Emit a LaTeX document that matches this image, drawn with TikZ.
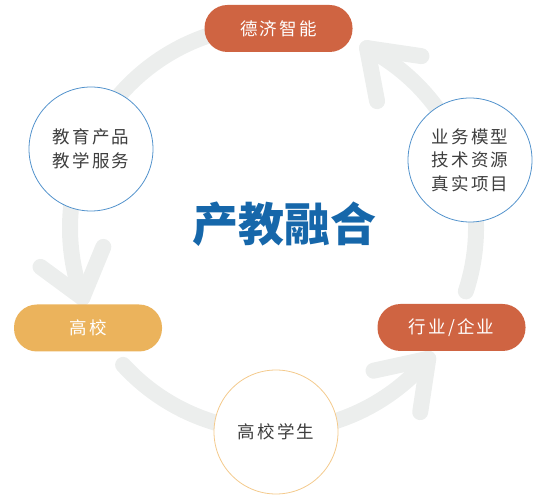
\documentclass[tikz,border=0pt]{standalone}
\usepackage{fontspec}
\usepackage{tikz}
\newfontfamily\cjk[LetterSpace=12]{Noto Sans CJK SC}
\newfontfamily\cjktitle{Noto Sans CJK SC}
\definecolor{rust}{RGB}{207,100,66}
\definecolor{sand}{RGB}{235,179,92}
\definecolor{ringgrey}{RGB}{236,238,237}
\definecolor{ringblue}{RGB}{82,146,204}
\definecolor{ringpeach}{RGB}{244,202,140}
\definecolor{titleblue}{RGB}{22,103,170}
\definecolor{textgrey}{RGB}{62,62,62}
\tikzstyle{pill}=[rounded corners=23pt,minimum width=148pt,minimum height=47pt,inner sep=0pt,text=white,font=\cjk\fontsize{17.5}{21}\selectfont]

\begin{document}
\begin{tikzpicture}[x=1pt,y=1pt]

\tikzstyle{disc}=[circle,draw=ringblue,line width=0.8pt,fill=white,minimum size=124pt,inner sep=0pt,align=center,text=textgrey,font=\cjk\fontsize{17.5}{23.5}\selectfont]
\tikzstyle{ring}=[line width=16pt,draw=ringgrey,line cap=round,line join=round]

\useasboundingbox (0,0) rectangle (545,500);
\coordinate (O) at (273,272);

\draw [ring] ([shift={(100:203)}]O) arc (100:200.1:203pt) coordinate (T1);
\draw [ring] ([shift={(222.4:203)}]O) arc (222.4:319.9:203pt) coordinate (T2);
\draw [ring] ([shift={(341.8:203)}]O) arc (341.8:422.4:203pt) coordinate (T3);

\draw [ring] ([shift={(143.6:52)}]T1) -- (T1) -- ([shift={(67.6:55)}]T1);
\draw [ring] ([shift={(192.3:56)}]T2) -- (T2) -- ([shift={(261.4:54)}]T2);
\draw [ring] ([shift={(-8.4:55)}]T3) -- (T3) -- ([shift={(-79.3:54)}]T3);

\node (A) [pill,fill=rust] at (278.5,471.5) {德济智能};
\node (D) [pill,fill=sand] at (88,172) {高校};
\node (E) [pill,fill=rust] at (451.5,172.5) {行业/企业};

\node (B) [disc] at (91,351) {教育产品\\教学服务};
\node (C) [disc] at (470,340) {业务模型\\技术资源\\真实项目};
\node (F) [disc,draw=ringpeach] at (276,68) {高校学生};

\node (G) [text=titleblue,font=\cjktitle\bfseries\fontsize{46}{50}\selectfont] at (284,276) {产教融合};

\end{tikzpicture}
\end{document}
